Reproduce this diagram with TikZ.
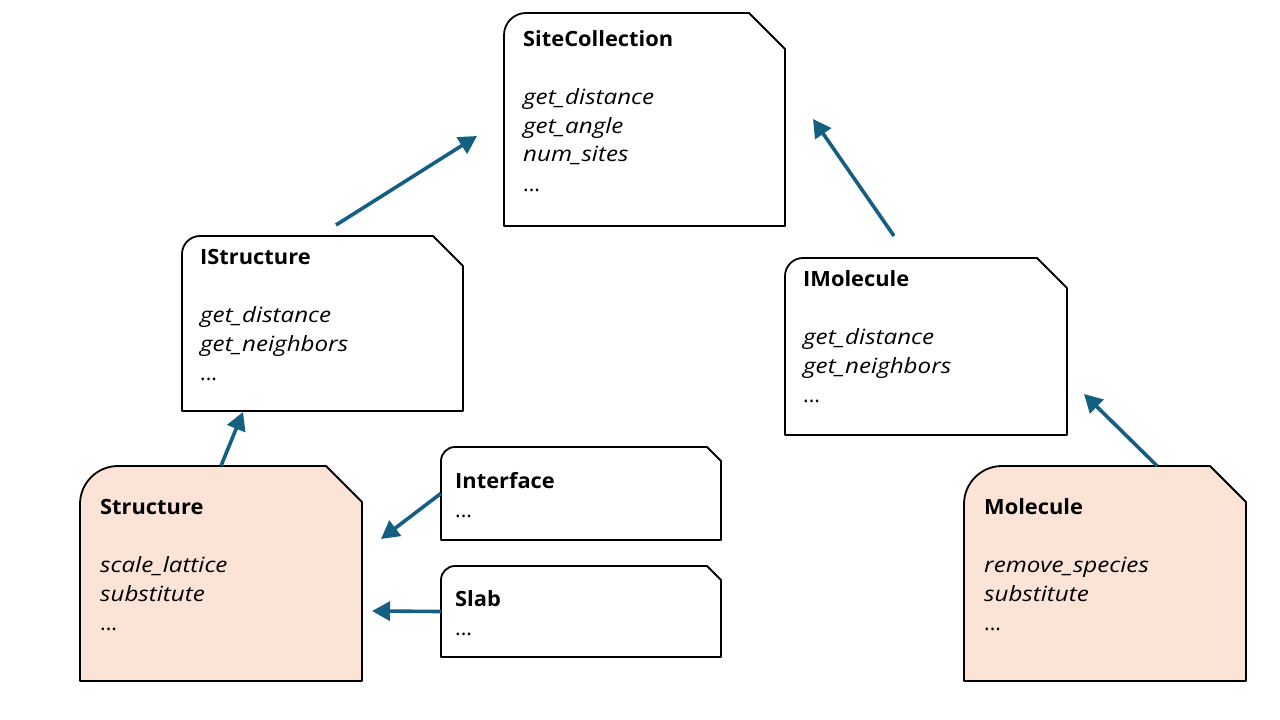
\documentclass[tikz,border=0pt]{standalone}
\usepackage{fontspec}
\setmainfont{Open Sans}[ItalicFeatures={FakeStretch=1.15},BoldFeatures={FakeStretch=1.04}]
\usetikzlibrary{arrows.meta,fit}
\definecolor{arrowblue}{RGB}{21,96,130}
\definecolor{peach}{RGB}{251,227,214}
\tikzset{
  outline/.style={draw=black, line width=1.8pt, line join=round},
  conn/.style={draw=arrowblue, line width=3.6pt, -{Triangle[length=18pt,width=19pt]}},
  boxtext/.style={anchor=base west, inner sep=0pt,
    font=\fontsize{21}{29}\selectfont},
  frame/.style={inner sep=0pt}
}
% lines of a box, first baseline is the node's baseline
\newcommand\boxlines[1]{\vtop{\halign{##\hfil\cr#1\crcr}}}
% #1 name, #2 x1, #3 y1, #4 x2, #5 y2, #6 corner radius, #7 clip size, #8 fill
\newcommand\umlbox[8]{%
  \path[outline, fill=#8] (#2,#5) -- (#2,#3+#6)
    .. controls (#2,#3+0.45*#6) and (#2+0.45*#6,#3) .. (#2+#6,#3)
    -- (#4-#7,#3) -- (#4,#3+#7) -- (#4,#5) -- cycle;
  \node[frame, fit={(#2,#3) (#4,#5)}] (#1) {};
}
\begin{document}
\begin{tikzpicture}[x=1pt, y=-1pt]
\useasboundingbox (0,0) rectangle (1280,720);

\umlbox{sc}{504}{13}{785}{226}{22}{36}{white}
\umlbox{istr}{182}{236}{463}{411}{18}{30}{white}
\umlbox{imol}{785}{258}{1067}{435}{18}{30}{white}
\umlbox{str}{80}{466}{362}{681}{38}{36}{peach}
\umlbox{mol}{964}{466}{1246}{681}{38}{36}{peach}
\umlbox{intf}{441}{447}{721}{540}{14}{14}{white}
\umlbox{slab}{441}{566}{721}{657}{14}{14}{white}

\node[boxtext] (sct) at (523,46) {\boxlines{\textbf{SiteCollection}\cr\cr\textit{get\_distance}\cr\textit{get\_angle}\cr\textit{num\_sites}\cr...}};
\node[boxtext] (istrt) at (200,264) {\boxlines{\textbf{IStructure}\cr\cr\textit{get\_distance}\cr\textit{get\_neighbors}\cr...}};
\node[boxtext] (imolt) at (803,286) {\boxlines{\textbf{IMolecule}\cr\cr\textit{get\_distance}\cr\textit{get\_neighbors}\cr...}};
\node[boxtext] (strt) at (100,514.5) {\boxlines{\textbf{Structure}\cr\cr\textit{scale\_lattice}\cr\textit{substitute}\cr...}};
\node[boxtext] (molt) at (984,514.5) {\boxlines{\textbf{Molecule}\cr\cr\textit{remove\_species}\cr\textit{substitute}\cr...}};
\node[boxtext] (intft) at (455,488.5) {\boxlines{\textbf{Interface}\cr...}};
\node[boxtext] (slabt) at (455,606.5) {\boxlines{\textbf{Slab}\cr...}};

\coordinate (s1) at (336,225);
\coordinate (t1) at (477,136);
\coordinate (s2) at (894,236);
\coordinate (t2) at (813,119);
\coordinate (t3) at (243,412);
\coordinate (t4) at (1084,394);
\coordinate (t5) at (381,539);
\coordinate (t6) at (372,611);

\draw[conn] (s1) -- (t1);
\draw[conn] (s2) -- (t2);
\draw[conn] (str.north) -- (t3);
\draw[conn] ([xshift=52pt]mol.north) -- (t4);
\draw[conn] (intf.west) -- (t5);
\draw[conn] (slab.west) -- (t6);
\end{tikzpicture}
\end{document}
